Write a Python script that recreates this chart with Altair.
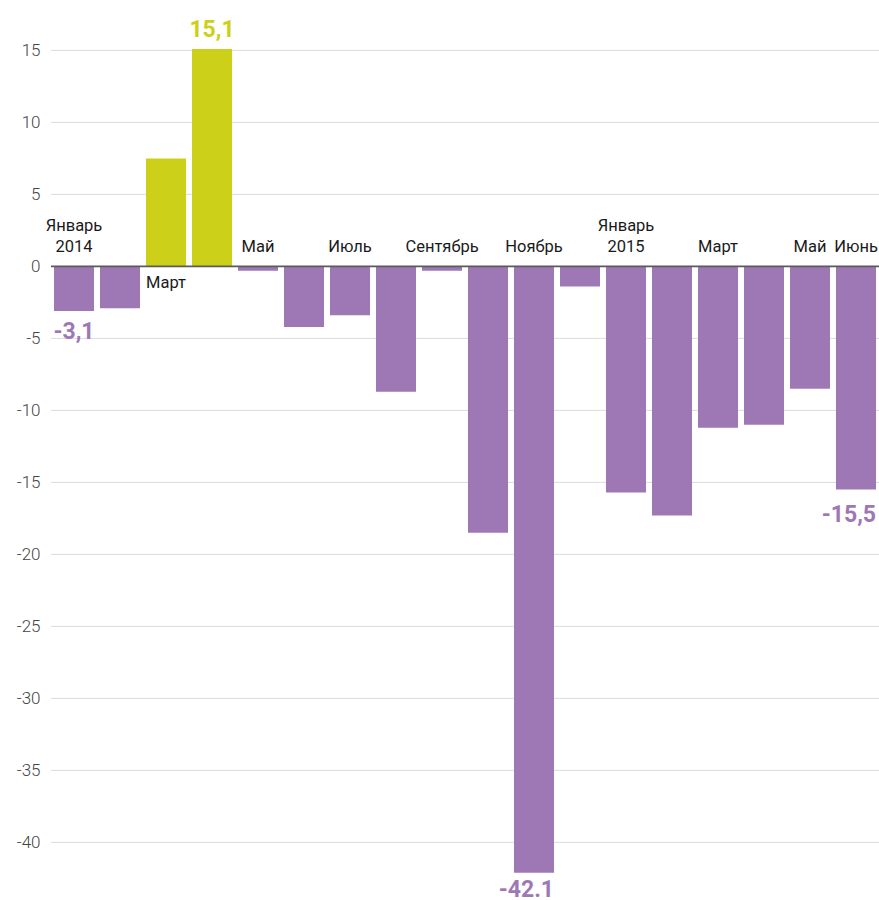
import altair as alt
import pandas as pd

months = ["2014-01", "2014-02", "2014-03", "2014-04", "2014-05", "2014-06",
          "2014-07", "2014-08", "2014-09", "2014-10", "2014-11", "2014-12",
          "2015-01", "2015-02", "2015-03", "2015-04", "2015-05", "2015-06"]
values = [-3.1, -2.9, 7.5, 15.1, -0.3, -4.2, -3.4, -8.7, -0.3, -18.5, -42.1, -1.4,
          -15.7, -17.3, -11.2, -11.0, -8.5, -15.5]
month_line1 = ["Январь", "", "", "", "", "", "", "", "", "", "", "", "Январь", "", "", "", "", ""]
month_line2 = ["2014", "", "", "", "Май", "", "Июль", "", "Сентябрь", "",
               "Ноябрь", "", "2015", "", "Март", "", "Май", "Июнь"]
month_below = ["", "", "Март", "", "", "", "", "", "", "", "", "", "", "", "", "", "", ""]
value_labels = ["-3,1", "", "", "15,1", "", "", "", "", "", "", "-42.1", "", "", "", "", "", "", "-15,5"]
yticks = [15, 10, 5, 0, -5, -10, -15, -20, -25, -30, -35, -40]

PURPLE = "#9d78b5"
GREEN = "#cdd018"

df = pd.DataFrame({"month": months, "value": values, "l1": month_line1, "l2": month_line2,
                   "lb": month_below, "vlabel": value_labels})
df["color"] = [GREEN if v > 0 else PURPLE for v in values]
df["zero"] = 0

xenc = alt.X("month:N", sort=months, axis=None,
             scale=alt.Scale(paddingInner=0.13, paddingOuter=0.065))
yscale = alt.Scale(domain=[-44.0, 18.5], nice=False, zero=False)
yaxis = alt.Axis(
    values=yticks, title=None, domain=False, ticks=False, grid=False,
    labelFont="Roboto", labelFontWeight=300, labelFontSize=17, labelColor="#444",
    labelPadding=11, format="d", labelExpr="replace(datum.label, '−', '-')")

base = alt.Chart(df)

grid = alt.Chart(pd.DataFrame({"t": [t for t in yticks if t != 0]})).mark_rule(
    color="#dcdcdc", strokeWidth=1
).encode(y=alt.Y("t:Q", scale=yscale, axis=yaxis))

bars = base.mark_bar().encode(
    x=xenc,
    y=alt.Y("value:Q", scale=yscale, axis=yaxis),
    y2=alt.Y2("zero:Q"),
    color=alt.Color("color:N", scale=None),
)

zero = alt.Chart(pd.DataFrame({"z": [0]})).mark_rule(color="#5a5a5a", strokeWidth=1.6).encode(
    y=alt.Y("z:Q", scale=yscale, axis=yaxis))

mtext = dict(font="Roboto", fontSize=16.5, fontWeight="normal", color="#1a1a1a")

line2 = base.transform_filter("datum.l2 != ''").mark_text(
    baseline="bottom", dy=-11, **mtext
).encode(x=xenc, y=alt.Y("zero:Q", scale=yscale, axis=yaxis), text="l2:N")

line1 = base.transform_filter("datum.l1 != ''").mark_text(
    baseline="bottom", dy=-32, **mtext
).encode(x=xenc, y=alt.Y("zero:Q", scale=yscale, axis=yaxis), text="l1:N")

below = base.transform_filter("datum.lb != ''").mark_text(
    baseline="top", dy=9, **mtext
).encode(x=xenc, y=alt.Y("zero:Q", scale=yscale, axis=yaxis), text="lb:N")

vt = dict(font="Roboto", fontWeight="bold", fontSize=23)

vpos = base.transform_filter("datum.vlabel != '' && datum.value > 0").mark_text(
    baseline="bottom", dy=-7, **vt
).encode(x=xenc, y=alt.Y("value:Q", scale=yscale, axis=yaxis), text="vlabel:N",
         color=alt.Color("color:N", scale=None))

vneg_c = base.transform_filter("datum.vlabel != '' && datum.value < 0 && datum.month < '2014-06'").mark_text(
    baseline="top", dy=10, **vt
).encode(x=xenc, y=alt.Y("value:Q", scale=yscale, axis=yaxis), text="vlabel:N",
         color=alt.Color("color:N", scale=None))

vneg_r = base.transform_filter("datum.vlabel != '' && datum.value < -30").mark_text(
    baseline="top", dy=6, align="right", dx=20, **vt
).encode(x=xenc, y=alt.Y("value:Q", scale=yscale, axis=yaxis), text="vlabel:N",
         color=alt.Color("color:N", scale=None))

vneg_r2 = base.transform_filter("datum.vlabel != '' && datum.month == '2015-06'").mark_text(
    baseline="top", dy=14, align="right", dx=20, **vt
).encode(x=xenc, y=alt.Y("value:Q", scale=yscale, axis=yaxis), text="vlabel:N",
         color=alt.Color("color:N", scale=None))

chart = alt.layer(grid, bars, zero, line1, line2, below, vpos, vneg_c, vneg_r, vneg_r2).properties(
    width=828, height=900,
    background="white",
    autosize=alt.AutoSizeParams(type="none"),
    padding={"left": 51, "top": 0, "right": 0, "bottom": 0},
).configure_view(strokeWidth=0, strokeOpacity=0)

chart.save("out.html", embed_options={"renderer": "svg", "actions": False})
